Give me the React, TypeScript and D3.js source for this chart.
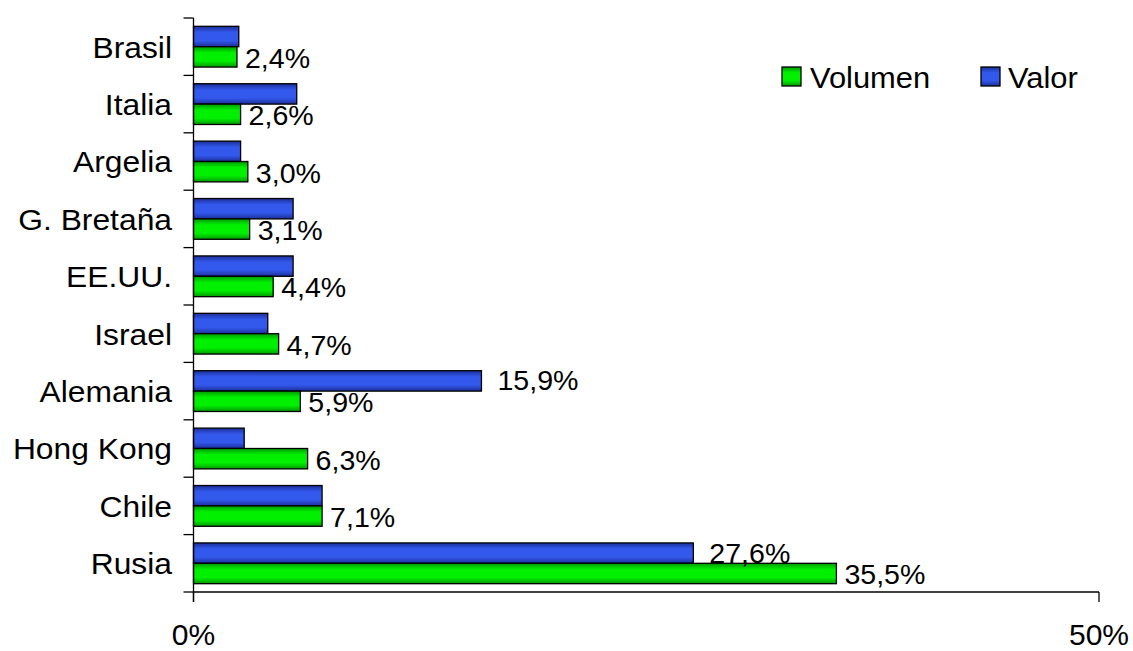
import React from "react";
import * as d3 from "d3";

const categories = ["Brasil", "Italia", "Argelia", "G. Bretaña", "EE.UU.", "Israel", "Alemania", "Hong Kong", "Chile", "Rusia"];
const valor = [2.5, 5.7, 2.6, 5.5, 5.5, 4.1, 15.9, 2.8, 7.1, 27.6];
const volumen = [2.4, 2.6, 3.0, 3.1, 4.4, 4.7, 5.9, 6.3, 7.1, 35.5];
const valorLabels: (string | null)[] = [null, null, null, null, null, null, "15,9%", null, null, "27,6%"];
const volumenLabels = ["2,4%", "2,6%", "3,0%", "3,1%", "4,4%", "4,7%", "5,9%", "6,3%", "7,1%", "35,5%"];
const xTicks = [0, 50];
const xTickLabels = ["0%", "50%"];
const seriesNames = ["Volumen", "Valor"];

const W = 1133;
const H = 651;
const left = 193.5;
const right = 1099;
const top = 18;
const bottom = 592;
const FONT = "'Liberation Sans', Arial, Helvetica, sans-serif";

function Txt({ x, y, size, sx = 1, anchor = "start", children }: any) {
  return (
    <text transform={`translate(${x},${y}) scale(${sx},1)`} fontSize={size} textAnchor={anchor} fill="#000">
      {children}
    </text>
  );
}

export default function App() {
  const x = d3.scaleLinear().domain([0, 50]).range([left, right]);
  const y = d3.scaleBand<string>().domain(categories).range([top, bottom]).padding(0);
  const bw = y.bandwidth();
  const barH = bw * 0.355;
  const off = (bw - 2 * barH) / 2;
  const boundaries = d3.range(categories.length + 1).map((i) => top + i * bw);

  return (
    <svg width={W} height={H} style={{ position: "absolute", left: 0, top: 0, background: "#fff" }} fontFamily={FONT}>
      <defs>
        <linearGradient id="gBlue" x1="0" y1="0" x2="0" y2="1">
          <stop offset="0" stopColor="#1c2f9a" />
          <stop offset="0.3" stopColor="#3358ec" />
          <stop offset="0.7" stopColor="#3358ec" />
          <stop offset="1" stopColor="#1c2f9a" />
        </linearGradient>
        <linearGradient id="gGreen" x1="0" y1="0" x2="0" y2="1">
          <stop offset="0" stopColor="#009a00" />
          <stop offset="0.3" stopColor="#00f000" />
          <stop offset="0.7" stopColor="#00f000" />
          <stop offset="1" stopColor="#009a00" />
        </linearGradient>
      </defs>

      {categories.map((c, i) => {
        const y0 = (y(c) as number) + off;
        return (
          <g key={c}>
            <rect x={x(0)} y={y0} width={x(valor[i]) - x(0)} height={barH} fill="url(#gBlue)" stroke="#000" strokeWidth={1.3} />
            <rect x={x(0)} y={y0 + barH} width={x(volumen[i]) - x(0)} height={barH} fill="url(#gGreen)" stroke="#000" strokeWidth={1.3} />
            {valorLabels[i] && (
              <Txt x={x(valor[i]) + 16} y={y0 + barH / 2 + 9.5} size={28} sx={1.02}>
                {valorLabels[i]}
              </Txt>
            )}
            <Txt x={x(volumen[i]) + 8} y={y0 + barH * 1.5 + 11} size={28} sx={1.02}>
              {volumenLabels[i]}
            </Txt>
            <Txt x={172} y={(y(c) as number) + bw / 2 + 10.8} size={30} sx={1.06} anchor="end">
              {c}
            </Txt>
          </g>
        );
      })}

      {/* axes */}
      <line x1={left} y1={top} x2={left} y2={bottom + 10} stroke="#000" strokeWidth={1.3} />
      {boundaries.map((b, i) => (
        <line key={i} x1={left - 10} y1={b} x2={left} y2={b} stroke="#000" strokeWidth={1.3} />
      ))}
      <line x1={left} y1={bottom} x2={right} y2={bottom} stroke="#000" strokeWidth={1.3} />
      {xTicks.map((t, i) => (
        <g key={t}>
          <line x1={x(t)} y1={bottom} x2={x(t)} y2={bottom + 10} stroke="#000" strokeWidth={1.3} />
          <Txt x={x(t)} y={645} size={30} anchor="middle">
            {xTickLabels[i]}
          </Txt>
        </g>
      ))}

      {/* legend */}
      <rect x={782} y={67} width={19} height={19} fill="url(#gGreen)" stroke="#000" strokeWidth={1.3} />
      <Txt x={810} y={87.5} size={30} sx={1.03}>{seriesNames[0]}</Txt>
      <rect x={981} y={67} width={19} height={19} fill="url(#gBlue)" stroke="#000" strokeWidth={1.3} />
      <Txt x={1008} y={87.5} size={30} sx={1.03}>{seriesNames[1]}</Txt>
    </svg>
  );
}
